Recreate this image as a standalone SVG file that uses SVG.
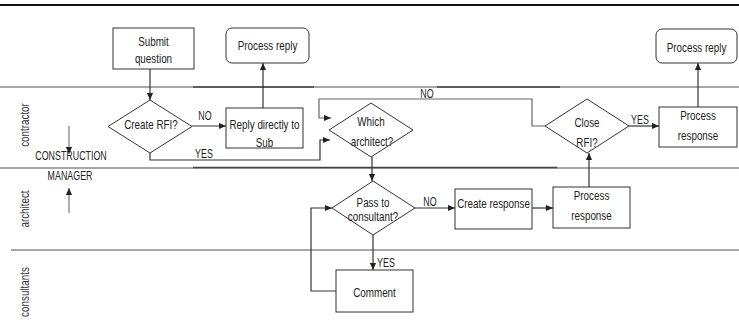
<svg xmlns="http://www.w3.org/2000/svg" width="739" height="326" viewBox="0 0 739 326">
  <defs>
    <marker id="arrow" viewBox="0 0 8 8" refX="8" refY="4" markerWidth="7" markerHeight="7" markerUnits="userSpaceOnUse" orient="auto">
      <path d="M0,0.5 L8,4 L0,7.5 Z" fill="#222"/>
    </marker>
    <style>
      text { font-family: "Liberation Sans", Arial, sans-serif; font-size: 12px; fill: #222; }
      text:not(.r) { transform-box: fill-box; transform-origin: center; transform: scaleX(0.82); }
      text.k { transform: scaleX(0.74); }
      .c { text-anchor: middle; }
      .r { fill: #333; }
      .box { fill: #fff; stroke: #333; stroke-width: 1; }
      .lane { stroke: #8a8a8a; stroke-width: 1.5; fill: none; }
      .laneDark { stroke: #444; stroke-width: 1.5; fill: none; }
      .connArrow { stroke: #333; stroke-width: 1.2; fill: none; marker-end: url(#arrow); }
      .connArrow.grey { stroke: #666; }
      .soft { stroke: #777; stroke-width: 1.2; fill: none; }
    </style>
  </defs>
  <rect width="739" height="326" fill="#fff"/>

  <!-- swimlane borders and lane titles -->
  <g id="lanes">
    <line x1="0" y1="5" x2="739" y2="5" stroke="#111" stroke-width="1.8"/>
    <line class="lane" x1="0" y1="87" x2="739" y2="87"/>
    <line class="laneDark" x1="193" y1="87" x2="314" y2="87"/>
    <line class="laneDark" x1="437" y1="87" x2="560" y2="87"/>
    <line class="lane" x1="0" y1="168" x2="739" y2="168"/>
    <line class="laneDark" x1="193" y1="167.5" x2="557" y2="167.5"/>
    <line class="lane" x1="11" y1="250" x2="739" y2="250"/>
    <text class="c r" transform="translate(29,125) rotate(-90) scale(0.82,1)">contractor</text>
    <text class="c r" transform="translate(29,209) rotate(-90) scale(0.82,1)">architect</text>
    <text class="c r" transform="translate(29,292) rotate(-90) scale(0.82,1)">consultants</text>
  </g>

  <!-- construction manager marker -->
  <g id="construction-manager">
    <line class="soft" x1="69" y1="126" x2="69" y2="154" marker-end="url(#arrow)"/>
    <text class="c k" x="71" y="160">CONSTRUCTION</text>
    <text class="c k" x="70" y="180">MANAGER</text>
    <line class="soft" x1="69" y1="213" x2="69" y2="188" marker-end="url(#arrow)"/>
  </g>

  <!-- connectors -->
  <g id="connectors">
    <line class="connArrow" x1="150" y1="69" x2="150" y2="100"/>
    <line class="connArrow" x1="192" y1="126" x2="226" y2="126"/>
    <text class="c k" x="205" y="120">NO</text>
    <line class="connArrow" x1="263" y1="108" x2="263" y2="63"/>
    <polyline class="connArrow" points="150,153 150,160 320,160 320,140 330,140"/>
    <text class="c k" x="204" y="158">YES</text>
    <polyline class="connArrow grey" points="545,126 532,126 532,99 319,99 319,118 331,118"/>
    <text class="c k" x="427" y="98">NO</text>
    <line class="connArrow" x1="629" y1="126" x2="659" y2="126"/>
    <text class="c k" x="640" y="124">YES</text>
    <line class="connArrow" x1="698" y1="107" x2="698" y2="63"/>
    <line class="connArrow" x1="372" y1="157" x2="372" y2="181"/>
    <line class="connArrow" x1="415" y1="208" x2="455" y2="208"/>
    <text class="c k" x="430" y="206">NO</text>
    <line class="connArrow" x1="532" y1="208" x2="553" y2="208"/>
    <line class="connArrow" x1="589" y1="187" x2="589" y2="153"/>
    <line class="connArrow" x1="373" y1="235" x2="373" y2="270"/>
    <text class="c k" x="386" y="267">YES</text>
    <polyline class="connArrow" points="336,291 311,291 311,208 332,208"/>
  </g>

  <!-- nodes -->
  <g id="submit-question">
    <rect class="box" x="113" y="28" width="81" height="41"/>
    <text class="c" x="153.5" y="46">Submit</text>
    <text class="c" x="153.5" y="63">question</text>
  </g>
  <g id="process-reply-left">
    <rect class="box" x="226" y="28" width="83" height="35" rx="6"/>
    <text class="c" x="267.5" y="50">Process reply</text>
  </g>
  <g id="create-rfi">
    <polygon class="box" points="108,126.5 150,100 192,126.5 150,153"/>
    <text class="c" x="151" y="129">Create RFI?</text>
  </g>
  <g id="reply-directly">
    <rect class="box" x="226" y="108" width="77" height="40"/>
    <text class="c" x="264.5" y="129">Reply directly to</text>
    <text class="c" x="264.5" y="147">Sub</text>
  </g>
  <g id="which-architect">
    <polygon class="box" points="329,130 371,103 413,130 371,157"/>
    <text class="c" x="371" y="126">Which</text>
    <text class="c" x="372" y="146">architect?</text>
  </g>
  <g id="close-rfi">
    <polygon class="box" points="545,126 587,99 629,126 587,153"/>
    <text class="c" x="587" y="127">Close</text>
    <text class="c" x="587" y="147">RFI?</text>
  </g>
  <g id="process-response-top">
    <rect class="box" x="659" y="107" width="78" height="40"/>
    <text class="c" x="698" y="120">Process</text>
    <text class="c" x="698" y="140">response</text>
  </g>
  <g id="process-reply-right">
    <rect class="box" x="656" y="29" width="81" height="34" rx="6"/>
    <text class="c" x="696.5" y="52">Process reply</text>
  </g>
  <g id="pass-to-consultant">
    <polygon class="box" points="332,208 373,181 415,208 373,235"/>
    <text class="c" x="373" y="207">Pass to</text>
    <text class="c" x="373" y="221">consultant?</text>
  </g>
  <g id="create-response">
    <rect class="box" x="455" y="189" width="77" height="40"/>
    <text class="c" x="493.5" y="208">Create response</text>
  </g>
  <g id="process-response-bottom">
    <rect class="box" x="553" y="187" width="77" height="41"/>
    <text class="c" x="591.5" y="200">Process</text>
    <text class="c" x="591.5" y="220">response</text>
  </g>
  <g id="comment">
    <rect class="box" x="336" y="270" width="77" height="42"/>
    <text class="c" x="374.5" y="297">Comment</text>
  </g>
</svg>
